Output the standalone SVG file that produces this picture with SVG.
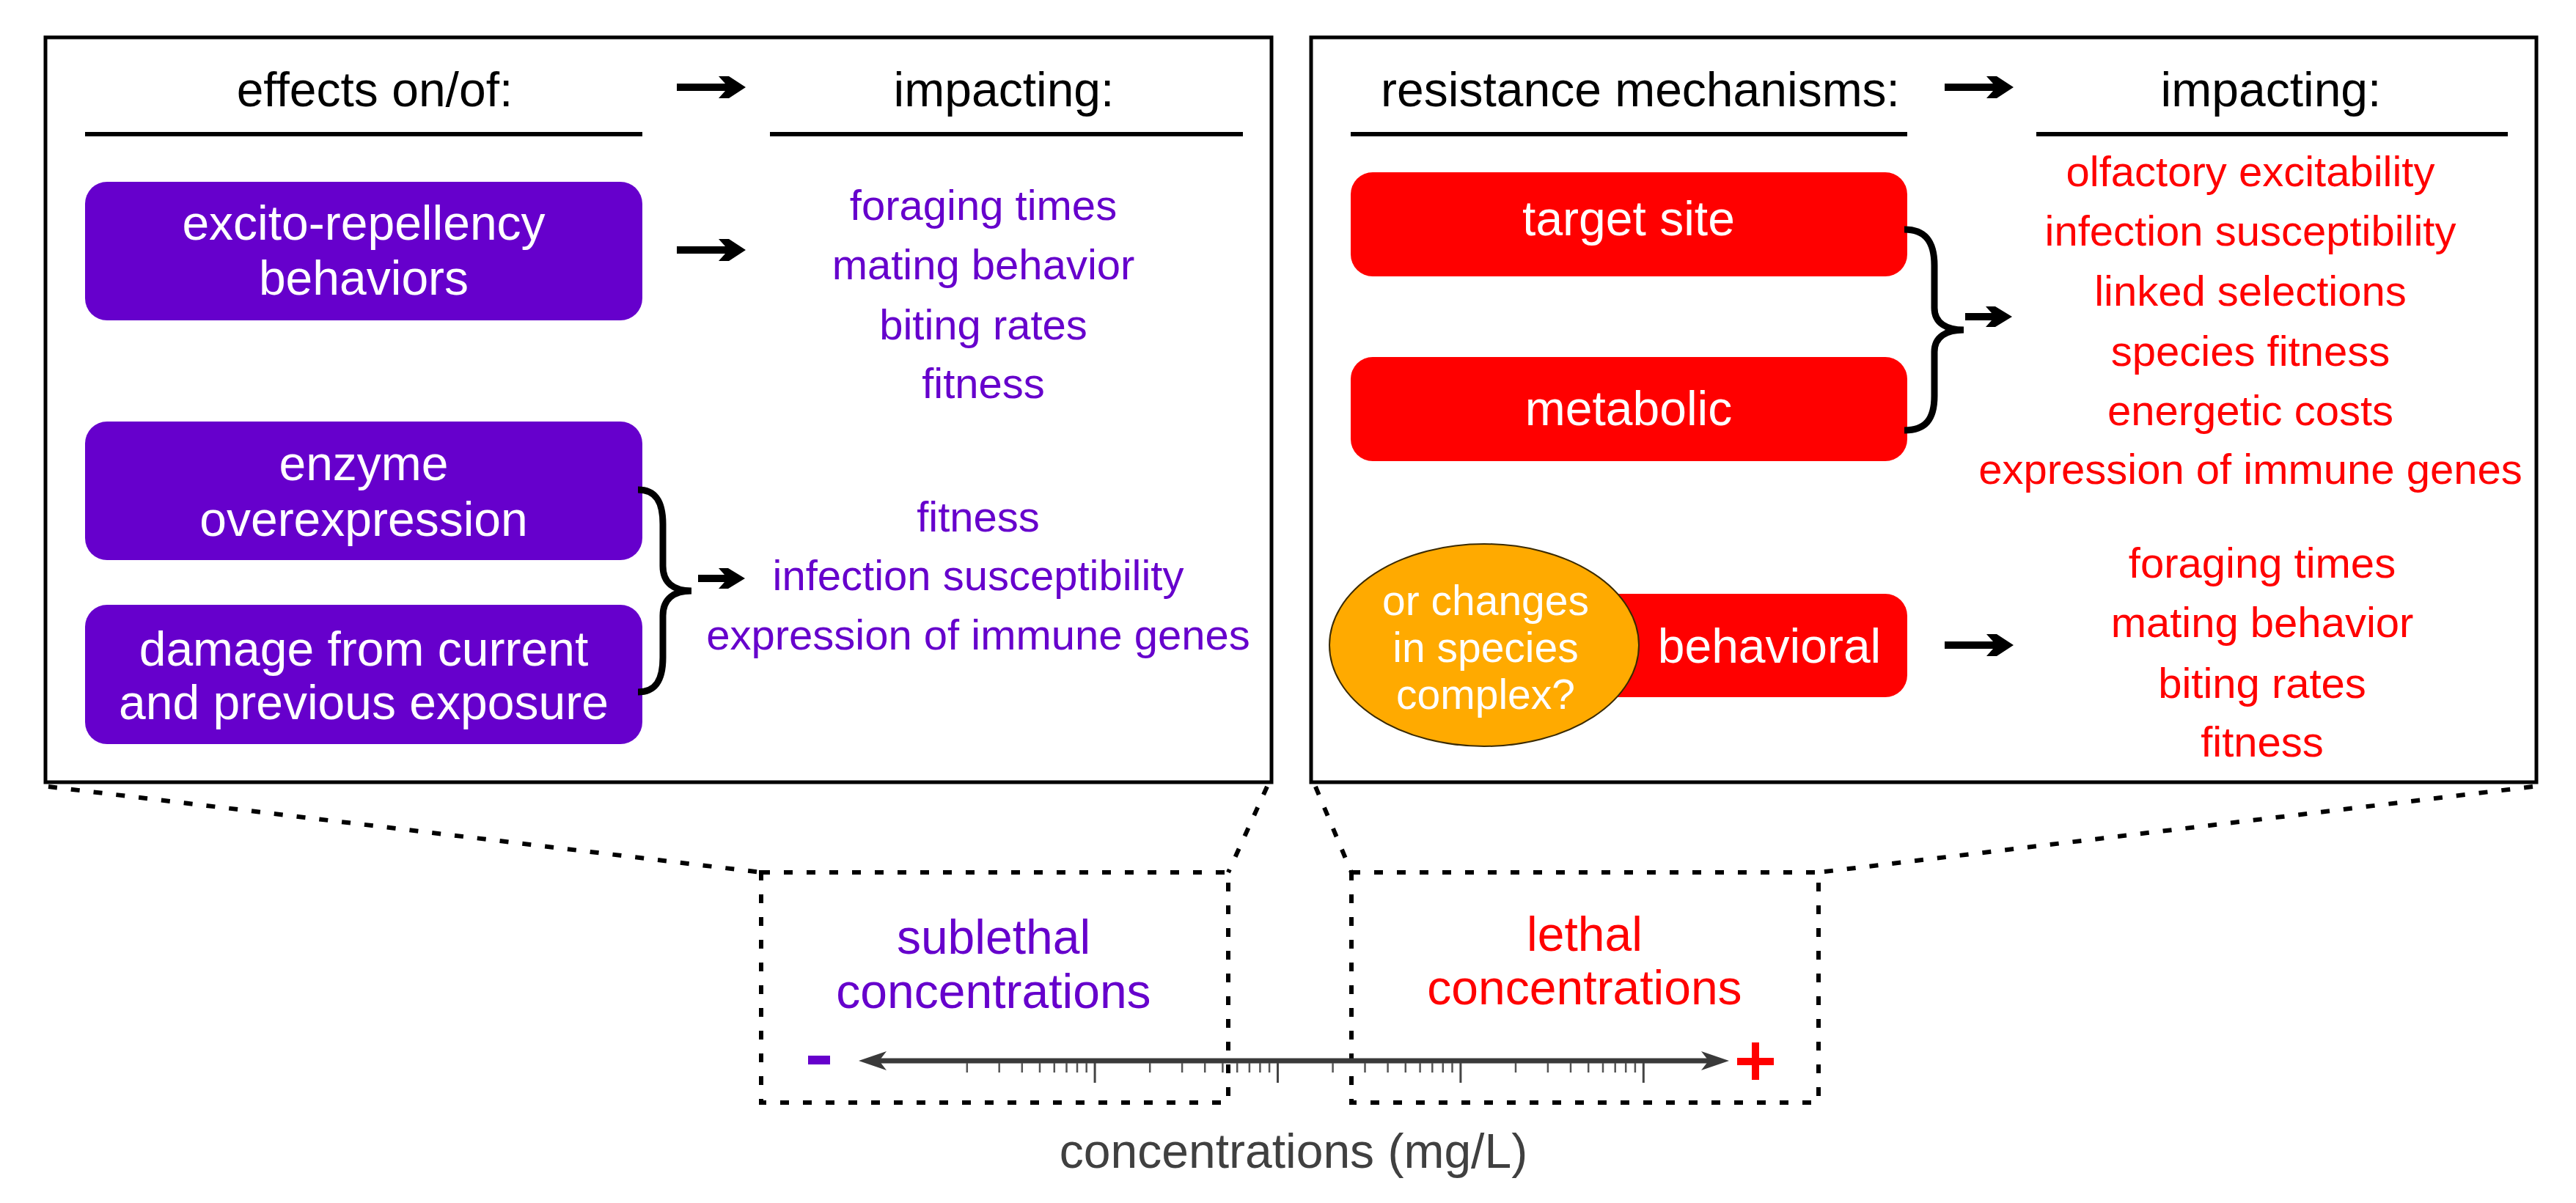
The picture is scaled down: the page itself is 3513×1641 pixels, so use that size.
<svg xmlns="http://www.w3.org/2000/svg" xmlns:xlink="http://www.w3.org/1999/xlink" width="3513" height="1641" viewBox="0 0 3513 1641">
<style>
text{font-family:"Liberation Sans",Arial,Helvetica,sans-serif;text-anchor:middle}
.hdr{font-size:66px;fill:#000}
.box{font-size:66px;fill:#fff}
.ell{font-size:57px;fill:#fff}
.pl{font-size:58px;fill:#6600CC}
.rl{font-size:58px;fill:#FF0000}
.lab{font-size:66px}
.panel{fill:#fff;stroke:#000;stroke-width:5}
.hline{stroke:#000;stroke-width:6}
.pbox{fill:#6600CC}
.rbox{fill:#FF0000}
.brace{fill:none;stroke:#000;stroke-width:9;stroke-linecap:butt}
.dot{fill:none;stroke:#000;stroke-width:6;stroke-dasharray:12 19}
.tick{stroke:#555;stroke-width:2.5}
.major{stroke:#444;stroke-width:3}
</style>
<defs>
<path id="bigArrow" d="M-94,-5 H-28 L-37,-15 H-23 L0,0 L-23,15 H-37 L-28,5 H-94 Z" fill="#000"/>
<path id="smallArrow" d="M-64,-5 H-28 L-36,-14 H-23 L0,0 L-23,14 H-36 L-28,5 H-64 Z" fill="#000"/>
</defs>

<g id="left-panel">
<rect class="panel" x="62" y="51" width="1672" height="1016"/>
<text class="hdr" x="511" y="145">effects on/of:</text>
<text class="hdr" x="1369" y="145">impacting:</text>
<line class="hline" x1="116" y1="183" x2="876" y2="183"/>
<line class="hline" x1="1050" y1="183" x2="1695" y2="183"/>
</g>

<g id="right-panel">
<rect class="panel" x="1788" y="51" width="1671" height="1016"/>
<text class="hdr" x="2237" y="145">resistance mechanisms:</text>
<text class="hdr" x="3097" y="145">impacting:</text>
<line class="hline" x1="1842" y1="183" x2="2601" y2="183"/>
<line class="hline" x1="2777" y1="183" x2="3420" y2="183"/>
</g>

<g id="node-excito">
<rect class="pbox" x="116" y="248" width="760" height="189" rx="30"/>
<text class="box" x="496" y="327">excito-repellency</text>
<text class="box" x="496" y="402">behaviors</text>
</g>
<g id="node-enzyme">
<rect class="pbox" x="116" y="575" width="760" height="189" rx="30"/>
<text class="box" x="496" y="655">enzyme</text>
<text class="box" x="496" y="731">overexpression</text>
</g>
<g id="node-damage">
<rect class="pbox" x="116" y="825" width="760" height="190" rx="30"/>
<text class="box" x="496" y="908">damage from current</text>
<text class="box" x="496" y="981">and previous exposure</text>
</g>

<g id="list-purple-1">
<text class="pl" x="1341" y="300">foraging times</text>
<text class="pl" x="1341" y="381">mating behavior</text>
<text class="pl" x="1341" y="463">biting rates</text>
<text class="pl" x="1341" y="543">fitness</text>
</g>
<g id="list-purple-2">
<text class="pl" x="1334" y="725">fitness</text>
<text class="pl" x="1334" y="805">infection susceptibility</text>
<text class="pl" x="1334" y="886">expression of immune genes</text>
</g>

<g id="node-target">
<rect class="rbox" x="1842" y="235" width="759" height="142" rx="30"/>
<text class="box" x="2221" y="321">target site</text>
</g>
<g id="node-metabolic">
<rect class="rbox" x="1842" y="487" width="759" height="142" rx="30"/>
<text class="box" x="2221" y="580">metabolic</text>
</g>
<g id="node-behavioral">
<rect class="rbox" x="2100" y="810" width="501" height="141" rx="30"/>
<text class="box" x="2413" y="904">behavioral</text>
</g>
<g id="node-species">
<ellipse cx="2024" cy="880" rx="211" ry="138" fill="#FFAA00" stroke="#3a2a00" stroke-width="2"/>
<text class="ell" x="2026" y="839">or changes</text>
<text class="ell" x="2026" y="903">in species</text>
<text class="ell" x="2026" y="967">complex?</text>
</g>

<g id="list-red-1">
<text class="rl" x="3069" y="254">olfactory excitability</text>
<text class="rl" x="3069" y="335">infection susceptibility</text>
<text class="rl" x="3069" y="417">linked selections</text>
<text class="rl" x="3069" y="499">species fitness</text>
<text class="rl" x="3069" y="580">energetic costs</text>
<text class="rl" x="3069" y="660">expression of immune genes</text>
</g>
<g id="list-red-2">
<text class="rl" x="3085" y="788">foraging times</text>
<text class="rl" x="3085" y="869">mating behavior</text>
<text class="rl" x="3085" y="952">biting rates</text>
<text class="rl" x="3085" y="1032">fitness</text>
</g>

<g id="connectors">
<use xlink:href="#bigArrow" transform="translate(1017,119)"/>
<use xlink:href="#bigArrow" transform="translate(1017,341)"/>
<use xlink:href="#smallArrow" transform="translate(1016,789)"/>
<use xlink:href="#bigArrow" transform="translate(2746,119)"/>
<use xlink:href="#smallArrow" transform="translate(2744,432)"/>
<use xlink:href="#bigArrow" transform="translate(2746,880)"/>
<path class="brace" d="M870,668 C895,668 904,685 904,715 L904,772 C904,796 920,806 943,806 C920,806 904,816 904,840 L904,897 C904,927 895,944 870,944"/>
<path class="brace" d="M2597,313 C2626,313 2638,330 2638,362 L2638,420 C2638,441 2655,450 2678,450 C2655,450 2638,459 2638,480 L2638,540 C2638,572 2626,587 2597,587"/>
<line class="dot" x1="66" y1="1073" x2="1038" y2="1190"/>
<line class="dot" x1="1728" y1="1073" x2="1675" y2="1190"/>
<line class="dot" x1="1794" y1="1073" x2="1843" y2="1190"/>
<line class="dot" x1="3454" y1="1073" x2="2480" y2="1190"/>
</g>

<g id="sublethal-range">
<rect class="dot" x="1038" y="1190" width="637" height="314"/>
<text class="lab" x="1355" y="1301" fill="#6600CC">sublethal</text>
<text class="lab" x="1355" y="1375" fill="#6600CC">concentrations</text>
</g>
<g id="lethal-range">
<rect class="dot" x="1843" y="1190" width="637" height="314"/>
<text class="lab" x="2161" y="1297" fill="#FF0000">lethal</text>
<text class="lab" x="2161" y="1370" fill="#FF0000">concentrations</text>
</g>

<g id="axis">
<line x1="1195" y1="1447" x2="2335" y2="1447" stroke="#3a3a3a" stroke-width="7"/>
<path d="M1171,1447 L1209,1434 L1199,1447 L1209,1460 Z" fill="#3a3a3a"/>
<path d="M2358,1447 L2320,1434 L2330,1447 L2320,1460 Z" fill="#3a3a3a"/>
<g>
<line class="tick" x1="1318.8" y1="1450" x2="1318.8" y2="1463"/>
<line class="tick" x1="1362.7" y1="1450" x2="1362.7" y2="1463"/>
<line class="tick" x1="1393.8" y1="1450" x2="1393.8" y2="1463"/>
<line class="tick" x1="1418.0" y1="1450" x2="1418.0" y2="1463"/>
<line class="tick" x1="1437.8" y1="1450" x2="1437.8" y2="1463"/>
<line class="tick" x1="1454.5" y1="1450" x2="1454.5" y2="1463"/>
<line class="tick" x1="1469.0" y1="1450" x2="1469.0" y2="1463"/>
<line class="tick" x1="1481.7" y1="1450" x2="1481.7" y2="1463"/>
<line class="major" x1="1493.1" y1="1450" x2="1493.1" y2="1477"/>
<line class="tick" x1="1568.2" y1="1450" x2="1568.2" y2="1463"/>
<line class="tick" x1="1612.1" y1="1450" x2="1612.1" y2="1463"/>
<line class="tick" x1="1643.2" y1="1450" x2="1643.2" y2="1463"/>
<line class="tick" x1="1667.4" y1="1450" x2="1667.4" y2="1463"/>
<line class="tick" x1="1687.2" y1="1450" x2="1687.2" y2="1463"/>
<line class="tick" x1="1703.9" y1="1450" x2="1703.9" y2="1463"/>
<line class="tick" x1="1718.4" y1="1450" x2="1718.4" y2="1463"/>
<line class="tick" x1="1731.1" y1="1450" x2="1731.1" y2="1463"/>
<line class="major" x1="1742.5" y1="1450" x2="1742.5" y2="1477"/>
<line class="tick" x1="1817.6" y1="1450" x2="1817.6" y2="1463"/>
<line class="tick" x1="1861.5" y1="1450" x2="1861.5" y2="1463"/>
<line class="tick" x1="1892.6" y1="1450" x2="1892.6" y2="1463"/>
<line class="tick" x1="1916.8" y1="1450" x2="1916.8" y2="1463"/>
<line class="tick" x1="1936.6" y1="1450" x2="1936.6" y2="1463"/>
<line class="tick" x1="1953.3" y1="1450" x2="1953.3" y2="1463"/>
<line class="tick" x1="1967.8" y1="1450" x2="1967.8" y2="1463"/>
<line class="tick" x1="1980.5" y1="1450" x2="1980.5" y2="1463"/>
<line class="major" x1="1991.9" y1="1450" x2="1991.9" y2="1477"/>
<line class="tick" x1="2067.0" y1="1450" x2="2067.0" y2="1463"/>
<line class="tick" x1="2110.9" y1="1450" x2="2110.9" y2="1463"/>
<line class="tick" x1="2142.0" y1="1450" x2="2142.0" y2="1463"/>
<line class="tick" x1="2166.2" y1="1450" x2="2166.2" y2="1463"/>
<line class="tick" x1="2186.0" y1="1450" x2="2186.0" y2="1463"/>
<line class="tick" x1="2202.7" y1="1450" x2="2202.7" y2="1463"/>
<line class="tick" x1="2217.2" y1="1450" x2="2217.2" y2="1463"/>
<line class="tick" x1="2229.9" y1="1450" x2="2229.9" y2="1463"/>
<line class="major" x1="2241.3" y1="1450" x2="2241.3" y2="1477"/>
</g>
<rect x="1102" y="1440" width="30" height="12" fill="#6600CC"/>
<path d="M2369,1448 H2419 M2394,1422 V1473" stroke="#FF0000" stroke-width="10" fill="none"/>
<text class="lab" x="1764" y="1593" fill="#404040">concentrations (mg/L)</text>
</g>
</svg>
